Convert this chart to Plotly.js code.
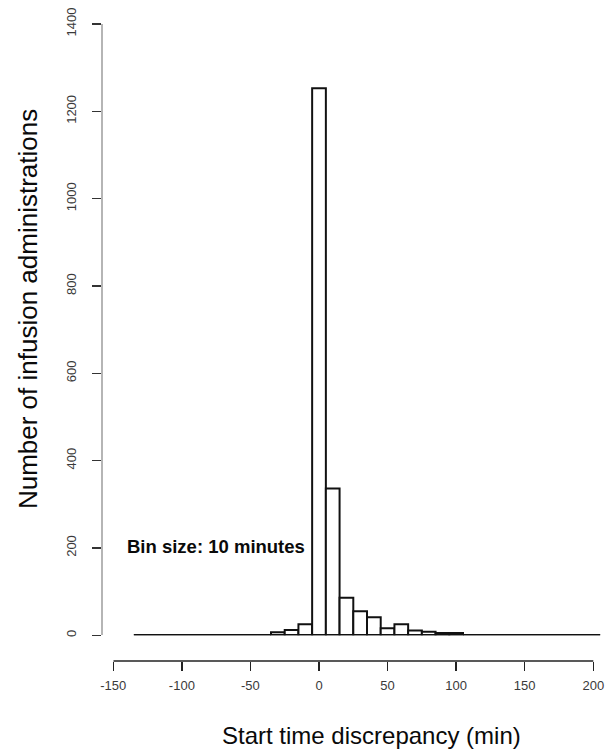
<!DOCTYPE html>
<html>
<head>
<meta charset="utf-8">
<script src="https://cdn.plot.ly/plotly-3.0.1.min.js"></script>
<style>
  html, body { margin: 0; padding: 0; background: #ffffff; }
  #chart { width: 614px; height: 752px; }
</style>
</head>
<body>
<div id="chart"></div>
<script>
// Bin centres (minutes), bin size 10 minutes
var binCenters = [-130, -120, -110, -100, -90, -80, -70, -60, -50, -40, -30, -20, -10,
                  0, 10, 20, 30, 40, 50, 60, 70, 80, 90, 100,
                  110, 120, 130, 140, 150, 160, 170, 180, 190, 200];
// Number of infusion administrations per bin
var counts = [0, 0, 0, 0, 0, 0, 0, 0, 0, 0, 7, 12, 25,
              1253, 336, 86, 55, 41, 16, 25, 11, 8, 5, 5,
              0, 0, 0, 0, 0, 0, 0, 0, 0, 0];
var binSize = 10;
var xTickVals = [-150, -100, -50, 0, 50, 100, 150, 200];
var yTickVals = [0, 200, 400, 600, 800, 1000, 1200, 1400];

var FONT = '"Liberation Sans", Arial, Helvetica, sans-serif';

var baseX = [binCenters[0] - binSize / 2, binCenters[binCenters.length - 1] + binSize / 2];

var traces = [
  {
    type: 'bar',
    x: binCenters,
    y: counts,
    width: binSize,
    marker: { color: '#ffffff', line: { color: '#111111', width: 2 } },
    hoverinfo: 'x+y'
  },
  {
    type: 'scatter',
    mode: 'lines',
    x: baseX,
    y: [0, 0],
    line: { color: '#111111', width: 2.5 },
    hoverinfo: 'skip'
  }
];

var layout = {
  width: 614,
  height: 752,
  margin: { l: 101, r: 7, t: 24, b: 91 },
  paper_bgcolor: '#ffffff',
  plot_bgcolor: '#ffffff',
  showlegend: false,
  bargap: 0,
  font: { family: FONT, color: '#333333', size: 13 },
  xaxis: {
    domain: [0.0243, 1],
    range: [-150, 210],
    anchor: 'free',
    position: 0,
    showgrid: false,
    zeroline: false,
    showline: false,
    ticks: 'outside',
    ticklen: 9,
    tickwidth: 1.5,
    tickcolor: '#222222',
    tickmode: 'array',
    tickvals: xTickVals,
    ticktext: xTickVals.map(String),
    ticklabelstandoff: 3,
    tickfont: { family: FONT, size: 13, color: '#3a3a3a' }
  },
  yaxis: {
    domain: [0.0404, 1],
    range: [0, 1400],
    anchor: 'free',
    position: 0,
    showgrid: false,
    zeroline: false,
    showline: true,
    linecolor: '#b5b5b5',
    linewidth: 1.5,
    ticks: 'outside',
    ticklen: 9,
    tickwidth: 1.5,
    tickcolor: '#333333',
    tickmode: 'array',
    tickvals: yTickVals,
    ticktext: yTickVals.map(String),
    tickangle: -90,
    ticklabelstandoff: 11,
    tickfont: { family: FONT, size: 13, color: '#3a3a3a' }
  },
  shapes: [
    {
      type: 'line', xref: 'x', yref: 'paper',
      x0: xTickVals[0], x1: xTickVals[xTickVals.length - 1], y0: 0, y1: 0,
      line: { color: '#222222', width: 1.5 }
    }
  ],
  annotations: [
    {
      text: 'Start time discrepancy (min)',
      xref: 'paper', yref: 'paper', x: 0.5336, y: -0.1167,
      xanchor: 'center', yanchor: 'middle', showarrow: false,
      font: { family: FONT, size: 24, color: '#0a0a0a' }
    },
    {
      text: 'Number of infusion administrations',
      xref: 'paper', yref: 'paper', x: -0.1443, y: 0.5524,
      xanchor: 'center', yanchor: 'middle', showarrow: false, textangle: -90,
      font: { family: FONT, size: 26, color: '#0a0a0a' }
    },
    {
      text: '<b>Bin size: 10 minutes</b>',
      xref: 'paper', yref: 'paper', x: 0.0474, y: 0.1802,
      xanchor: 'left', yanchor: 'middle', showarrow: false,
      font: { family: FONT, size: 18.5, color: '#0a0a0a' }
    }
  ]
};

Plotly.newPlot('chart', traces, layout, { displayModeBar: false, staticPlot: true });
</script>
</body>
</html>
